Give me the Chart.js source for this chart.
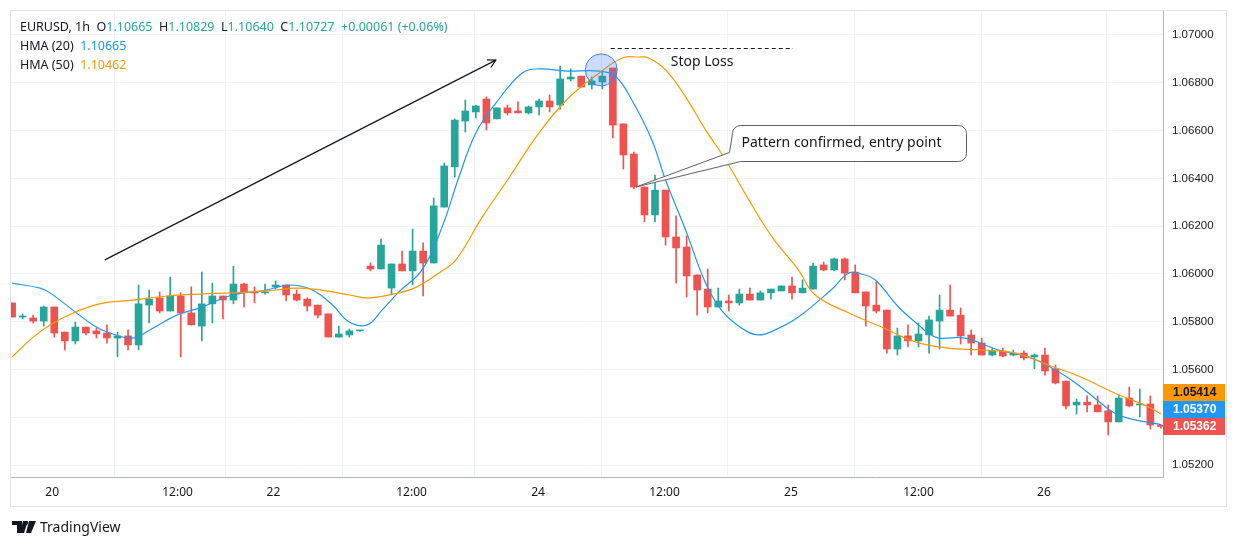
<!DOCTYPE html>
<html><head><meta charset="utf-8">
<script src="https://cdn.jsdelivr.net/npm/chart.js@4/dist/chart.umd.min.js"></script>
<style>
html,body{margin:0;padding:0;background:#fff;width:1237px;height:546px;overflow:hidden;font-family:"Noto Sans",sans-serif;}
#wrap{position:absolute;left:0;top:0;width:1237px;height:546px;}
.leg{position:absolute;left:20px;font-size:12.5px;color:#131722;white-space:nowrap;}
.t{color:#26a69a}.b{color:#2196f3}.o{color:#ff9800}
#logo{position:absolute;left:12px;top:517px;font-size:14px;color:#131722;display:flex;align-items:center;gap:4px;}
</style></head><body>
<div id="wrap"><canvas id="c" width="1237" height="546"></canvas></div>
<div class="leg" style="top:18px">EURUSD, 1h&nbsp; O<span class="t">1.10665</span>&nbsp; H<span class="t">1.10829</span>&nbsp; L<span class="t">1.10640</span>&nbsp; C<span class="t">1.10727</span>&nbsp; <span class="t">+0.00061 (+0.06%)</span></div>
<div class="leg" style="top:37px">HMA (20)&nbsp; <span class="b">1.10665</span></div>
<div class="leg" style="top:56px">HMA (50)&nbsp; <span class="o">1.10462</span></div>
<div id="logo"><svg width="24" height="12" viewBox="0 0 24 12"><path d="M0 0h10v12H5V4H0z M11 0h5l-4 12h-4z" fill="#131722"/><circle cx="14" cy="2" r="2" fill="#131722"/><path d="M17 0h7l-5 12h-5z" fill="#131722"/></svg><span>TradingView</span></div>
<script>
const openP=[1.05879,1.05820,1.05816,1.05803,1.05862,1.05757,1.05720,1.05778,1.05762,1.05753,
1.05732,1.05741,1.05703,1.05870,1.05900,1.05845,1.05908,1.05837,1.05782,1.05875,
1.05908,1.05891,1.05958,1.05925,1.05921,1.05946,1.05954,1.05916,1.05895,1.05870,
1.05833,1.05736,1.05745,1.05762,1.06033,1.06021,1.05941,1.06042,1.06013,1.06096,
1.06046,1.06280,1.06448,1.06640,1.06678,1.06732,1.06649,1.06695,1.06682,1.06674,
1.06699,1.06724,1.06707,1.06816,1.06828,1.06791,1.06803,1.06862,1.06628,1.06502,
1.06364,1.06247,1.06351,1.06155,1.06113,1.05996,1.05937,1.05862,1.05887,1.05879,
1.05916,1.05891,1.05921,1.05929,1.05950,1.05921,1.05937,1.06038,1.06017,1.06063,
1.06008,1.05925,1.05870,1.05849,1.05686,1.05741,1.05720,1.05745,1.05803,1.05849,
1.05828,1.05745,1.05711,1.05661,1.05678,1.05661,1.05669,1.05653,1.05661,1.05603,
1.05552,1.05452,1.05464,1.05452,1.05427,1.05381,1.05481,1.05452,1.05456,1.05368];
const highP=[1.05879,1.05833,1.05828,1.05866,1.05862,1.05757,1.05799,1.05778,1.05774,1.05787,
1.05757,1.05766,1.05954,1.05933,1.05925,1.05987,1.05921,1.05946,1.06008,1.05962,
1.05908,1.06033,1.05962,1.05946,1.05958,1.05971,1.05954,1.05933,1.05900,1.05870,
1.05833,1.05782,1.05770,1.05764,1.06046,1.06146,1.06042,1.06096,1.06188,1.06130,
1.06318,1.06464,1.06649,1.06728,1.06707,1.06741,1.06695,1.06707,1.06720,1.06703,
1.06732,1.06749,1.06870,1.06858,1.06828,1.06824,1.06849,1.06862,1.06628,1.06510,
1.06364,1.06414,1.06351,1.06243,1.06159,1.05996,1.06021,1.05941,1.05912,1.05937,
1.05941,1.05929,1.05937,1.05950,1.05987,1.05975,1.06046,1.06050,1.06067,1.06067,
1.06038,1.05925,1.05967,1.05849,1.05774,1.05787,1.05795,1.05824,1.05912,1.05954,
1.05858,1.05766,1.05732,1.05690,1.05690,1.05682,1.05678,1.05665,1.05690,1.05620,
1.05552,1.05477,1.05490,1.05490,1.05452,1.05494,1.05527,1.05519,1.05490,1.05370];
const lowP=[1.05820,1.05812,1.05795,1.05782,1.05736,1.05682,1.05707,1.05745,1.05732,1.05711,
1.05653,1.05682,1.05682,1.05795,1.05837,1.05845,1.05653,1.05787,1.05720,1.05795,
1.05812,1.05875,1.05862,1.05879,1.05916,1.05937,1.05887,1.05887,1.05845,1.05816,
1.05736,1.05736,1.05736,1.05760,1.06013,1.06021,1.05916,1.06013,1.05954,1.05908,
1.06046,1.06280,1.06406,1.06594,1.06653,1.06603,1.06649,1.06665,1.06674,1.06669,
1.06665,1.06678,1.06690,1.06808,1.06782,1.06774,1.06774,1.06569,1.06439,1.06356,
1.06218,1.06218,1.06121,1.05962,1.05904,1.05828,1.05837,1.05862,1.05845,1.05870,
1.05891,1.05891,1.05895,1.05929,1.05895,1.05921,1.05937,1.06013,1.06013,1.05975,
1.05921,1.05782,1.05837,1.05669,1.05661,1.05695,1.05695,1.05669,1.05686,1.05824,
1.05707,1.05661,1.05661,1.05657,1.05653,1.05657,1.05640,1.05603,1.05577,1.05540,
1.05435,1.05414,1.05423,1.05423,1.05326,1.05381,1.05444,1.05402,1.05351,1.05355];
const closeP=[1.05820,1.05824,1.05803,1.05862,1.05753,1.05720,1.05778,1.05753,1.05749,1.05732,
1.05741,1.05703,1.05875,1.05895,1.05845,1.05908,1.05837,1.05787,1.05875,1.05908,
1.05891,1.05958,1.05921,1.05921,1.05925,1.05954,1.05912,1.05891,1.05866,1.05828,
1.05736,1.05749,1.05762,1.05762,1.06021,1.06121,1.06042,1.06013,1.06096,1.06046,
1.06285,1.06452,1.06644,1.06682,1.06703,1.06632,1.06695,1.06674,1.06674,1.06699,
1.06724,1.06699,1.06816,1.06824,1.06782,1.06808,1.06828,1.06623,1.06498,1.06364,
1.06247,1.06351,1.06155,1.06109,1.05992,1.05933,1.05862,1.05887,1.05879,1.05916,
1.05891,1.05921,1.05937,1.05950,1.05921,1.05941,1.06033,1.06017,1.06063,1.06004,
1.05921,1.05866,1.05845,1.05686,1.05741,1.05720,1.05749,1.05808,1.05849,1.05824,
1.05741,1.05711,1.05661,1.05678,1.05657,1.05669,1.05649,1.05661,1.05594,1.05544,
1.05448,1.05464,1.05452,1.05423,1.05381,1.05481,1.05448,1.05456,1.05368,1.05362];
const hma20X=[0,2.65,3.6,7.67,9.28,11.46,13.07,15.63,17.8,20.93,24.15,26.3,28.5,30.4,32.0,33.7,35.1,36.7,38.9,40.8,42.4,44.0,45.9,48.4,50.0,52.6,55.7,57.3,58.8,60.7,62.0,63.9,65.8,67.3,69.2,70.8,72.4,74.6,77.7,79.4,80.6,81.9,84.1,86.0,86.9,87.9,90.4,93.6,96.7,99.0,100.9,103.3,104.6,106.2,109];
const hma20Y=[1.05962,1.05941,1.05921,1.05787,1.05753,1.05732,1.05766,1.05828,1.05858,1.05912,1.05933,1.05954,1.05933,1.05870,1.05799,1.05787,1.05849,1.05925,1.06017,1.06197,1.06406,1.06590,1.06715,1.06841,1.06858,1.06849,1.06849,1.06824,1.06728,1.06561,1.06393,1.06184,1.05962,1.05849,1.05774,1.05745,1.05766,1.05820,1.05933,1.06004,1.06000,1.05975,1.05862,1.05787,1.05753,1.05732,1.05732,1.05682,1.05649,1.05598,1.05544,1.05460,1.05418,1.05393,1.05370];
const hma50X=[0,2.0,3.6,5.8,8.3,11.5,14.7,17.8,20.9,24.1,27.3,30.4,32.0,33.9,36.7,38.4,40.5,42.1,44.6,47.2,49.7,52.6,55.7,57.9,59.5,60.4,62.0,63.9,65.8,67.7,69.9,72.1,74.6,76.2,79.4,82.5,85.7,88.8,92.0,95.2,98.3,101.4,104.6,107.8,109];
const hma50Y=[1.05653,1.05736,1.05787,1.05837,1.05875,1.05891,1.05908,1.05916,1.05921,1.05929,1.05941,1.05925,1.05912,1.05900,1.05921,1.05946,1.06004,1.06059,1.06238,1.06406,1.06573,1.06728,1.06841,1.06904,1.06908,1.06904,1.06854,1.06741,1.06603,1.06477,1.06310,1.06155,1.06017,1.05912,1.05837,1.05778,1.05716,1.05690,1.05682,1.05669,1.05619,1.05569,1.05502,1.05444,1.05414];
const xTickIdx=[3.8,15.7,24.8,37.9,49.9,61.9,73.9,86.0,97.9];
const xTickLabels=["20","12:00","22","12:00","24","12:00","25","12:00","26"];
const yTicks=[1.052,1.054,1.056,1.058,1.060,1.062,1.064,1.066,1.068,1.070];
const lastValues=[{v:1.05414,c:"#ff9800"},{v:1.05370,c:"#2196f3"},{v:1.05362,c:"#ef5350"}];

const UP="#26a69a",DN="#ef5350";
const colors=openP.map((o,i)=>closeP[i]>=o?UP:DN);
const wicks=openP.map((o,i)=>({x:i,y:[lowP[i],highP[i]]}));
const bodies=openP.map((o,i)=>({x:i,y:[o,closeP[i]]}));

const annot={id:'annot',
 afterDraw(chart){
  const ctx=chart.ctx,xs=chart.scales.x,ys=chart.scales.y,a=chart.chartArea;
  const X=v=>xs.getPixelForValue(v),Y=v=>ys.getPixelForValue(v);
  ctx.save();
  ctx.strokeStyle="#e0e3eb";ctx.lineWidth=1;
  ctx.strokeRect(10.5,10.5,1216,496);
  ctx.beginPath();ctx.rect(a.left,a.top,a.right-a.left,a.bottom-a.top);ctx.clip();
  const x1=X(8.8),y1=Y(1.06059),x2=X(45.9),y2=Y(1.06895);
  ctx.strokeStyle="#131722";ctx.lineWidth=1.2;
  ctx.beginPath();ctx.moveTo(x1,y1);ctx.lineTo(x2,y2);ctx.stroke();
  const ang=Math.atan2(y2-y1,x2-x1);
  ctx.beginPath();
  ctx.moveTo(x2-9*Math.cos(ang-0.5),y2-9*Math.sin(ang-0.5));ctx.lineTo(x2,y2);
  ctx.lineTo(x2-9*Math.cos(ang+0.5),y2-9*Math.sin(ang+0.5));ctx.stroke();
  ctx.beginPath();ctx.arc(X(55.9),Y(1.06854),16,0,Math.PI*2);
  ctx.fillStyle="rgba(66,133,244,0.28)";ctx.fill();
  ctx.strokeStyle="#4a7cf0";ctx.lineWidth=1;ctx.stroke();
  const sy=Math.round(Y(1.06946))+0.5;
  ctx.setLineDash([4,3]);ctx.strokeStyle="#131722";
  ctx.beginPath();ctx.moveTo(X(56.8),sy);ctx.lineTo(X(74.1),sy);ctx.stroke();
  ctx.setLineDash([]);
  ctx.fillStyle="#131722";ctx.font='14px "Noto Sans"';ctx.textBaseline="middle";
  ctx.fillText("Stop Loss",X(62.5),sy+14);
  const ax=X(59.2),ay=Y(1.06364);
  const bx=732.5,by=125.5,bw=234,bh=36,r=8;
  ctx.fillStyle="#fff";ctx.strokeStyle="#5d606b";ctx.lineWidth=1;
  ctx.beginPath();
  ctx.moveTo(bx+r,by);ctx.lineTo(bx+bw-r,by);ctx.arcTo(bx+bw,by,bx+bw,by+r,r);
  ctx.lineTo(bx+bw,by+bh-r);ctx.arcTo(bx+bw,by+bh,bx+bw-r,by+bh,r);
  ctx.lineTo(bx+8,by+bh);ctx.lineTo(ax,ay);ctx.lineTo(bx-3,by+27);
  ctx.lineTo(bx,by+r);ctx.arcTo(bx,by,bx+r,by,r);ctx.closePath();
  ctx.fill();ctx.stroke();
  ctx.fillStyle="#131722";ctx.fillText("Pattern confirmed, entry point",bx+9,by+bh/2);
  ctx.restore();
  ctx.save();
  let prevTop=Infinity;
  ctx.font='bold 12px "Liberation Sans"';ctx.textBaseline="middle";
  for(let i=lastValues.length-1;i>=0;i--){
   let cy=Y(lastValues[i].v);let top=cy-8.5;
   if(top+17>prevTop) top=prevTop-17;
   prevTop=top;
   ctx.fillStyle=lastValues[i].c;ctx.fillRect(a.right,top,62,17);
   ctx.fillStyle=i===0?"#131722":"#fff";
   ctx.fillText(lastValues[i].v.toFixed(5),a.right+10,top+9);
  }
  ctx.restore();
 }};

new Chart(document.getElementById('c'),{
 type:'bar',
 data:{datasets:[
  {data:wicks,backgroundColor:colors,barThickness:1,grouped:false,order:3},
  {data:bodies,backgroundColor:colors,barThickness:7,minBarLength:1,grouped:false,order:2},
  {type:'line',data:hma20X.map((x,i)=>({x,y:hma20Y[i]})),borderColor:"#2196f3",borderWidth:1.2,pointRadius:0,tension:0.4,order:1},
  {type:'line',data:hma50X.map((x,i)=>({x,y:hma50Y[i]})),borderColor:"#ff9800",borderWidth:1.2,pointRadius:0,tension:0.4,order:0}
 ]},
 options:{responsive:false,animation:false,devicePixelRatio:1,
  layout:{padding:{left:10,top:10,right:10,bottom:40}},
  plugins:{legend:{display:false},tooltip:{enabled:false}},
  scales:{
   x:{type:'linear',min:-0.2,max:109.2,offset:false,
    afterBuildTicks:s=>{s.ticks=xTickIdx.map(v=>({value:v}));},
    afterFit:s=>{s.height=29;s.paddingLeft=0;s.paddingRight=0;},
    grid:{color:"#f0f3fa",drawTicks:false},border:{color:"#b2b5be"},
    ticks:{padding:8,color:"#131722",font:{family:"Noto Sans",size:12},maxRotation:0,autoSkip:false,
     callback:(v,i)=>xTickLabels[i]}},
   y:{type:'linear',position:'right',min:1.051506,max:1.071046,
    afterBuildTicks:s=>{s.ticks=yTicks.map(v=>({value:v}));},
    afterFit:s=>{s.width=64;s.paddingTop=0;s.paddingBottom=0;},
    grid:{color:"#f0f3fa",drawTicks:false},border:{color:"#b2b5be"},
    ticks:{padding:9,color:"#131722",font:{family:"Liberation Sans",size:11.5},callback:v=>v.toFixed(5)}}
  }},
 plugins:[annot]
});
</script></body></html>
